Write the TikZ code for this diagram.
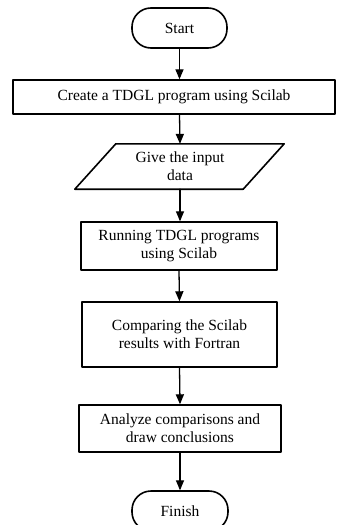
\documentclass[tikz,border=0pt]{standalone}
\usepackage{fontspec}
\setmainfont{Liberation Serif}
\usepackage{tikz}
\usetikzlibrary{arrows}
\usetikzlibrary{calc}

\tikzset{
  flowbox/.style={draw, line width=1.6pt, align=center, inner sep=2pt,
    font=\fontsize{15.5}{18}\selectfont},
  termbox/.style={flowbox, rounded corners=19pt},
  inbox/.style={align=center, inner sep=0pt,
    font=\fontsize{15.5}{18}\selectfont},
  flowarrow/.style={->, line width=1.3pt}
}

\begin{document}
\begin{tikzpicture}[line cap=round,line join=round,>=triangle 45,x=1pt,y=-1pt]
\useasboundingbox (0,0) rectangle (337,525);
% boxes
\node[termbox, minimum width=95, minimum height=40] (start) at (179.5,28) {Start};
\node[flowbox, minimum width=322, minimum height=34] (create) at (174,97) {Create a TDGL program using Scilab};
\node[inbox, minimum width=168, minimum height=45] (input) at (180,166.5) {Give the input\\data};
\draw [line width=1.6pt] ([xshift=20pt]input.north west) -- ([xshift=20pt]input.north east)
  -- ([xshift=-21pt]input.south east) -- ([xshift=-21pt]input.south west) -- cycle;
\node[flowbox, minimum width=196, minimum height=48] (run) at (179,246) {Running TDGL programs\\using Scilab};
\node[flowbox, minimum width=195, minimum height=65] (compare) at (179.5,334.5) {Comparing the Scilab\\results with Fortran};
\node[flowbox, minimum width=202, minimum height=47] (analyze) at (180,428.5) {Analyze comparisons and\\draw conclusions};
\node[termbox, minimum width=96, minimum height=40] (finish) at (180,511) {Finish};
% arrows
\draw [flowarrow] (start.south) -- (start.south |- create.north);
\draw [flowarrow] (start.south |- create.south) -- (input.north);
\draw [flowarrow] (input.south) -- (input.south |- run.north);
\draw [flowarrow] (run.south) -- (compare.north);
\draw [flowarrow] (compare.south) -- (analyze.north);
\draw [flowarrow] (analyze.south) -- (finish.north);
\end{tikzpicture}
\end{document}
